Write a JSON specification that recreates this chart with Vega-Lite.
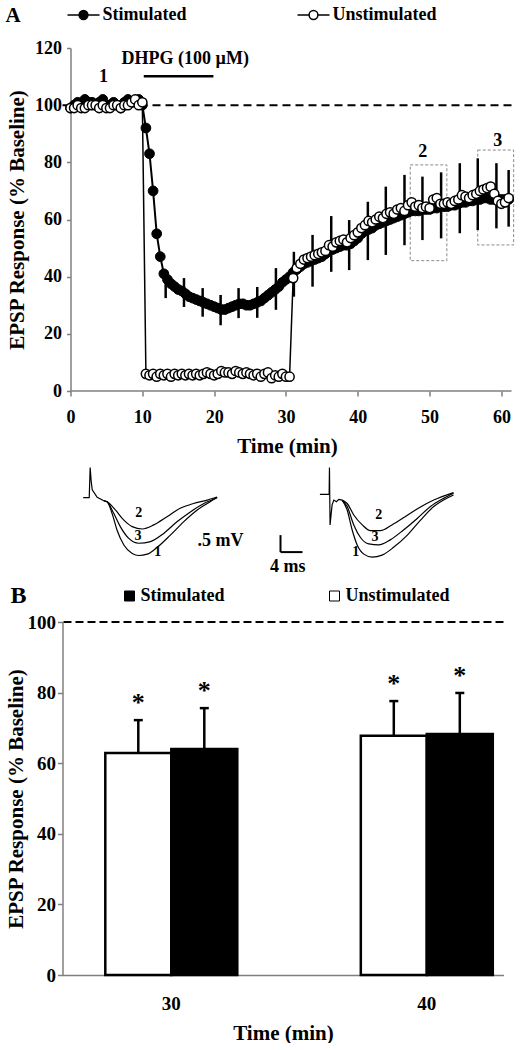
{
  "$schema": "https://vega.github.io/schema/vega-lite/v6.json",
  "background": "white",
  "padding": {"left": 4.5, "top": 4, "right": 0, "bottom": 0},
  "config": {
    "view": {"stroke": null},
    "font": "Liberation Serif",
    "axis": {"grid": false, "domainColor": "#7f7f7f", "domainWidth": 1.5, "tickColor": "#7f7f7f", "tickWidth": 1.5, "labelFont": "Liberation Serif", "labelFontWeight": "bold", "labelColor": "black", "titleFont": "Liberation Serif", "titleFontWeight": "bold", "titleColor": "black", "labelFlush": false, "labelOverlap": false},
    "text": {"font": "Liberation Serif", "fontWeight": "bold", "color": "black"}
  },
  "datasets": {
    "stim": [
      {"group":"Stimulated","t":0,"v":99},{"group":"Stimulated","t":0.5,"v":100},{"group":"Stimulated","t":1,"v":101},{"group":"Stimulated","t":1.5,"v":100},{"group":"Stimulated","t":2,"v":102},{"group":"Stimulated","t":2.5,"v":101},{"group":"Stimulated","t":3,"v":101},{"group":"Stimulated","t":3.5,"v":100},{"group":"Stimulated","t":4,"v":101},{"group":"Stimulated","t":4.5,"v":102},{"group":"Stimulated","t":5,"v":100},{"group":"Stimulated","t":5.5,"v":100},{"group":"Stimulated","t":6,"v":101},{"group":"Stimulated","t":6.5,"v":100},{"group":"Stimulated","t":7,"v":99},{"group":"Stimulated","t":7.5,"v":101},{"group":"Stimulated","t":8,"v":102},{"group":"Stimulated","t":8.5,"v":101},{"group":"Stimulated","t":9,"v":101},{"group":"Stimulated","t":9.5,"v":102},{"group":"Stimulated","t":10,"v":100},
      {"group":"Stimulated","t":10.5,"v":92},{"group":"Stimulated","t":11,"v":83},{"group":"Stimulated","t":11.5,"v":70},{"group":"Stimulated","t":12,"v":55},{"group":"Stimulated","t":12.5,"v":47},{"group":"Stimulated","t":13,"v":41},{"group":"Stimulated","t":13.5,"v":39},{"group":"Stimulated","t":14,"v":37.5},{"group":"Stimulated","t":14.5,"v":36.5},{"group":"Stimulated","t":15,"v":35.5},{"group":"Stimulated","t":15.5,"v":35},{"group":"Stimulated","t":16,"v":34},{"group":"Stimulated","t":16.5,"v":33},{"group":"Stimulated","t":17,"v":32.5},{"group":"Stimulated","t":17.5,"v":32},{"group":"Stimulated","t":18,"v":31.5},{"group":"Stimulated","t":18.5,"v":31},{"group":"Stimulated","t":19,"v":30.5},{"group":"Stimulated","t":19.5,"v":30},{"group":"Stimulated","t":20,"v":29.5},
      {"group":"Stimulated","t":20.5,"v":29},{"group":"Stimulated","t":21,"v":28.5},{"group":"Stimulated","t":21.5,"v":28.5},{"group":"Stimulated","t":22,"v":29},{"group":"Stimulated","t":22.5,"v":29.5},{"group":"Stimulated","t":23,"v":30},{"group":"Stimulated","t":23.5,"v":30.5},{"group":"Stimulated","t":24,"v":30.5},{"group":"Stimulated","t":24.5,"v":30},{"group":"Stimulated","t":25,"v":30},{"group":"Stimulated","t":25.5,"v":30.5},{"group":"Stimulated","t":26,"v":31},{"group":"Stimulated","t":26.5,"v":31.5},{"group":"Stimulated","t":27,"v":32.5},{"group":"Stimulated","t":27.5,"v":33.5},{"group":"Stimulated","t":28,"v":34.5},{"group":"Stimulated","t":28.5,"v":35.5},{"group":"Stimulated","t":29,"v":36.5},{"group":"Stimulated","t":29.5,"v":38},{"group":"Stimulated","t":30,"v":39},
      {"group":"Stimulated","t":30.5,"v":40},{"group":"Stimulated","t":31,"v":41.5},{"group":"Stimulated","t":31.5,"v":42.5},{"group":"Stimulated","t":32,"v":43.5},{"group":"Stimulated","t":32.5,"v":44.5},{"group":"Stimulated","t":33,"v":45},{"group":"Stimulated","t":33.5,"v":45.5},{"group":"Stimulated","t":34,"v":46},{"group":"Stimulated","t":34.5,"v":46.5},{"group":"Stimulated","t":35,"v":47},{"group":"Stimulated","t":35.5,"v":48},{"group":"Stimulated","t":36,"v":49},{"group":"Stimulated","t":36.5,"v":49.5},{"group":"Stimulated","t":37,"v":50},{"group":"Stimulated","t":37.5,"v":50.5},{"group":"Stimulated","t":38,"v":51},{"group":"Stimulated","t":38.5,"v":51},{"group":"Stimulated","t":39,"v":51.5},{"group":"Stimulated","t":39.5,"v":52.5},{"group":"Stimulated","t":40,"v":53.5},
      {"group":"Stimulated","t":40.5,"v":55},{"group":"Stimulated","t":41,"v":56},{"group":"Stimulated","t":41.5,"v":56.5},{"group":"Stimulated","t":42,"v":57},{"group":"Stimulated","t":42.5,"v":58},{"group":"Stimulated","t":43,"v":58.5},{"group":"Stimulated","t":43.5,"v":59},{"group":"Stimulated","t":44,"v":59.5},{"group":"Stimulated","t":44.5,"v":60},{"group":"Stimulated","t":45,"v":60.5},{"group":"Stimulated","t":45.5,"v":61},{"group":"Stimulated","t":46,"v":61.5},{"group":"Stimulated","t":46.5,"v":62},{"group":"Stimulated","t":47,"v":62.5},{"group":"Stimulated","t":47.5,"v":63},{"group":"Stimulated","t":48,"v":63},{"group":"Stimulated","t":48.5,"v":63},{"group":"Stimulated","t":49,"v":63.5},{"group":"Stimulated","t":49.5,"v":63.5},{"group":"Stimulated","t":50,"v":63.5},
      {"group":"Stimulated","t":50.5,"v":64},{"group":"Stimulated","t":51,"v":64},{"group":"Stimulated","t":51.5,"v":64.5},{"group":"Stimulated","t":52,"v":64.5},{"group":"Stimulated","t":52.5,"v":64.5},{"group":"Stimulated","t":53,"v":65},{"group":"Stimulated","t":53.5,"v":65},{"group":"Stimulated","t":54,"v":65.5},{"group":"Stimulated","t":54.5,"v":66},{"group":"Stimulated","t":55,"v":66},{"group":"Stimulated","t":55.5,"v":66.5},{"group":"Stimulated","t":56,"v":66.5},{"group":"Stimulated","t":56.5,"v":67},{"group":"Stimulated","t":57,"v":67},{"group":"Stimulated","t":57.5,"v":67.5},{"group":"Stimulated","t":58,"v":67.5},{"group":"Stimulated","t":58.5,"v":67},{"group":"Stimulated","t":59,"v":67},{"group":"Stimulated","t":59.5,"v":67},{"group":"Stimulated","t":60,"v":67},{"group":"Stimulated","t":60.5,"v":67},{"group":"Stimulated","t":61,"v":67}
    ],
    "unstim": [
      {"group":"Unstimulated","t":0,"v":99},{"group":"Unstimulated","t":0.5,"v":99},{"group":"Unstimulated","t":1,"v":100},{"group":"Unstimulated","t":1.5,"v":99},{"group":"Unstimulated","t":2,"v":99},{"group":"Unstimulated","t":2.5,"v":100},{"group":"Unstimulated","t":3,"v":100},{"group":"Unstimulated","t":3.5,"v":100},{"group":"Unstimulated","t":4,"v":99},{"group":"Unstimulated","t":4.5,"v":100},{"group":"Unstimulated","t":5,"v":99},{"group":"Unstimulated","t":5.5,"v":99},{"group":"Unstimulated","t":6,"v":100},{"group":"Unstimulated","t":6.5,"v":100},{"group":"Unstimulated","t":7,"v":99},{"group":"Unstimulated","t":7.5,"v":100},{"group":"Unstimulated","t":8,"v":100},{"group":"Unstimulated","t":8.5,"v":101},{"group":"Unstimulated","t":9,"v":102},{"group":"Unstimulated","t":9.5,"v":100},{"group":"Unstimulated","t":10,"v":101},
      {"group":"Unstimulated","t":10.5,"v":6},{"group":"Unstimulated","t":11,"v":5.5},{"group":"Unstimulated","t":11.5,"v":6},{"group":"Unstimulated","t":12,"v":5},{"group":"Unstimulated","t":12.5,"v":6},{"group":"Unstimulated","t":13,"v":5.5},{"group":"Unstimulated","t":13.5,"v":6},{"group":"Unstimulated","t":14,"v":5},{"group":"Unstimulated","t":14.5,"v":6},{"group":"Unstimulated","t":15,"v":5.5},{"group":"Unstimulated","t":15.5,"v":6},{"group":"Unstimulated","t":16,"v":5.5},{"group":"Unstimulated","t":16.5,"v":6},{"group":"Unstimulated","t":17,"v":5.5},{"group":"Unstimulated","t":17.5,"v":6},{"group":"Unstimulated","t":18,"v":5.5},{"group":"Unstimulated","t":18.5,"v":6},{"group":"Unstimulated","t":19,"v":6.5},{"group":"Unstimulated","t":19.5,"v":6},{"group":"Unstimulated","t":20,"v":5.5},
      {"group":"Unstimulated","t":20.5,"v":6},{"group":"Unstimulated","t":21,"v":7},{"group":"Unstimulated","t":21.5,"v":6.5},{"group":"Unstimulated","t":22,"v":6.5},{"group":"Unstimulated","t":22.5,"v":6},{"group":"Unstimulated","t":23,"v":7},{"group":"Unstimulated","t":23.5,"v":6.5},{"group":"Unstimulated","t":24,"v":6},{"group":"Unstimulated","t":24.5,"v":6.5},{"group":"Unstimulated","t":25,"v":6},{"group":"Unstimulated","t":25.5,"v":5.5},{"group":"Unstimulated","t":26,"v":6},{"group":"Unstimulated","t":26.5,"v":5},{"group":"Unstimulated","t":27,"v":6},{"group":"Unstimulated","t":27.5,"v":6.5},{"group":"Unstimulated","t":28,"v":4.5},{"group":"Unstimulated","t":28.5,"v":5.5},{"group":"Unstimulated","t":29,"v":5},{"group":"Unstimulated","t":29.5,"v":6},{"group":"Unstimulated","t":30,"v":5},{"group":"Unstimulated","t":30.5,"v":5},
      {"group":"Unstimulated","t":31,"v":39.5},{"group":"Unstimulated","t":31.5,"v":43},{"group":"Unstimulated","t":32,"v":44.5},{"group":"Unstimulated","t":32.5,"v":46},{"group":"Unstimulated","t":33,"v":46.5},{"group":"Unstimulated","t":33.5,"v":47},{"group":"Unstimulated","t":34,"v":47.5},{"group":"Unstimulated","t":34.5,"v":48},{"group":"Unstimulated","t":35,"v":48.5},{"group":"Unstimulated","t":35.5,"v":49},{"group":"Unstimulated","t":36,"v":51},{"group":"Unstimulated","t":36.5,"v":50.5},{"group":"Unstimulated","t":37,"v":52},{"group":"Unstimulated","t":37.5,"v":52.5},{"group":"Unstimulated","t":38,"v":53},{"group":"Unstimulated","t":38.5,"v":52},{"group":"Unstimulated","t":39,"v":53.5},{"group":"Unstimulated","t":39.5,"v":54.5},{"group":"Unstimulated","t":40,"v":55.5},
      {"group":"Unstimulated","t":40.5,"v":57},{"group":"Unstimulated","t":41,"v":58},{"group":"Unstimulated","t":41.5,"v":59.5},{"group":"Unstimulated","t":42,"v":59},{"group":"Unstimulated","t":42.5,"v":60},{"group":"Unstimulated","t":43,"v":61},{"group":"Unstimulated","t":43.5,"v":60.5},{"group":"Unstimulated","t":44,"v":62},{"group":"Unstimulated","t":44.5,"v":62.5},{"group":"Unstimulated","t":45,"v":62},{"group":"Unstimulated","t":45.5,"v":63.5},{"group":"Unstimulated","t":46,"v":64},{"group":"Unstimulated","t":46.5,"v":63},{"group":"Unstimulated","t":47,"v":65},{"group":"Unstimulated","t":47.5,"v":66},{"group":"Unstimulated","t":48,"v":64.5},{"group":"Unstimulated","t":48.5,"v":65},{"group":"Unstimulated","t":49,"v":64},{"group":"Unstimulated","t":49.5,"v":64.5},{"group":"Unstimulated","t":50,"v":64},
      {"group":"Unstimulated","t":50.5,"v":67},{"group":"Unstimulated","t":51,"v":67.5},{"group":"Unstimulated","t":51.5,"v":65.5},{"group":"Unstimulated","t":52,"v":65.5},{"group":"Unstimulated","t":52.5,"v":66},{"group":"Unstimulated","t":53,"v":65.5},{"group":"Unstimulated","t":53.5,"v":66.5},{"group":"Unstimulated","t":54,"v":67},{"group":"Unstimulated","t":54.5,"v":68.5},{"group":"Unstimulated","t":55,"v":68},{"group":"Unstimulated","t":55.5,"v":67.5},{"group":"Unstimulated","t":56,"v":68.5},{"group":"Unstimulated","t":56.5,"v":69},{"group":"Unstimulated","t":57,"v":70},{"group":"Unstimulated","t":57.5,"v":70.5},{"group":"Unstimulated","t":58,"v":71},{"group":"Unstimulated","t":58.5,"v":71.5},{"group":"Unstimulated","t":59,"v":69},{"group":"Unstimulated","t":59.5,"v":66.5},{"group":"Unstimulated","t":60,"v":65.5},{"group":"Unstimulated","t":60.5,"v":66},{"group":"Unstimulated","t":61,"v":67.5}
    ],
    "errA": [
      {"t":13.25,"lo":32.5,"hi":42.3},{"t":15.8,"lo":29.4,"hi":39.5},{"t":18.4,"lo":26,"hi":36},{"t":20.9,"lo":23,"hi":33.6},{"t":23.4,"lo":25.5,"hi":36},{"t":26,"lo":25.6,"hi":36.4},{"t":28.6,"lo":28.4,"hi":43},{"t":31.1,"lo":33,"hi":48.7},{"t":33.7,"lo":36.5,"hi":54.6},{"t":36.3,"lo":41.7,"hi":61.2},{"t":38.8,"lo":42.3,"hi":59.8},{"t":41.4,"lo":45.8,"hi":66.2},{"t":43.9,"lo":47.6,"hi":71.5},{"t":46.5,"lo":51,"hi":75.6},{"t":49,"lo":52.8,"hi":75},{"t":51.6,"lo":53.4,"hi":76.5},{"t":54.2,"lo":55.2,"hi":79.7},{"t":56.7,"lo":56.3,"hi":81.4},{"t":59.3,"lo":56.9,"hi":79.7},{"t":61,"lo":57.5,"hi":77.3}
    ],
    "refLine": [{"level":100}],
    "baseA": [{"from":0,"to":61.4,"level":0}],
    "panelLabel": [{"label":"A","t":-9.05,"v":129.1}],
    "windows": [{"label":"2","t1":47.3,"t2":52.4,"lo":45.6,"hi":79.1},{"label":"3","t1":56.7,"t2":61.7,"lo":51.1,"hi":84.3}],
    "windowLabels": [{"label":"1","t":4.6,"v":110},{"label":"2","t":49.05,"v":83.7},{"label":"3","t":59.5,"v":87.5}],
    "drug": [{"label":"DHPG (100 µM)","start":10.2,"end":19.9,"level":110.1,"mid":15.97,"labelLevel":116.1}],
    "traceL": [
      {"sample":"artifact","t":-1.15,"mV":0},{"sample":"artifact","t":-0.05,"mV":0},{"sample":"artifact","t":0.12,"mV":0.89},{"sample":"artifact","t":0.3,"mV":0.5},{"sample":"artifact","t":0.5,"mV":0.23},{"sample":"artifact","t":1.4,"mV":0.01},{"sample":"artifact","t":2.6,"mV":-0.09},
      {"sample":"1","t":2.6,"mV":-0.09},{"sample":"1","t":3.2,"mV":-0.12},{"sample":"1","t":4.1,"mV":-0.46},{"sample":"1","t":5.0,"mV":-0.95},{"sample":"1","t":6.25,"mV":-1.39},{"sample":"1","t":7.76,"mV":-1.64},{"sample":"1","t":8.97,"mV":-1.7},{"sample":"1","t":10.5,"mV":-1.66},{"sample":"1","t":12.3,"mV":-1.46},{"sample":"1","t":14.7,"mV":-1.1},{"sample":"1","t":17.1,"mV":-0.71},{"sample":"1","t":19.6,"mV":-0.36},{"sample":"1","t":21.4,"mV":-0.17},{"sample":"1","t":23.2,"mV":0.01},
      {"sample":"3","t":2.6,"mV":-0.09},{"sample":"3","t":3.2,"mV":-0.12},{"sample":"3","t":4.4,"mV":-0.46},{"sample":"3","t":5.6,"mV":-0.85},{"sample":"3","t":7.1,"mV":-1.19},{"sample":"3","t":8.97,"mV":-1.34},{"sample":"3","t":11.1,"mV":-1.29},{"sample":"3","t":13.5,"mV":-1.05},{"sample":"3","t":15.9,"mV":-0.71},{"sample":"3","t":18.4,"mV":-0.41},{"sample":"3","t":20.8,"mV":-0.17},{"sample":"3","t":23.2,"mV":0.0},
      {"sample":"2","t":2.6,"mV":-0.09},{"sample":"2","t":3.2,"mV":-0.12},{"sample":"2","t":4.7,"mV":-0.36},{"sample":"2","t":6.25,"mV":-0.66},{"sample":"2","t":7.76,"mV":-0.85},{"sample":"2","t":9.6,"mV":-0.92},{"sample":"2","t":11.7,"mV":-0.8},{"sample":"2","t":14.1,"mV":-0.56},{"sample":"2","t":16.5,"mV":-0.31},{"sample":"2","t":18.9,"mV":-0.17},{"sample":"2","t":21.4,"mV":-0.07},{"sample":"2","t":23.2,"mV":0.02}
    ],
    "traceR": [
      {"sample":"artifact","t":-1.8,"mV":0.1},{"sample":"artifact","t":-0.12,"mV":0.1},{"sample":"artifact","t":-0.06,"mV":0.89},{"sample":"artifact","t":0.05,"mV":-0.8},{"sample":"artifact","t":0.42,"mV":-0.21},{"sample":"artifact","t":0.73,"mV":-0.07},{"sample":"artifact","t":1.2,"mV":-0.12},{"sample":"artifact","t":1.64,"mV":-0.05},{"sample":"artifact","t":2.25,"mV":-0.07},
      {"sample":"1","t":2.25,"mV":-0.07},{"sample":"1","t":3.16,"mV":-0.36},{"sample":"1","t":4.07,"mV":-0.95},{"sample":"1","t":4.98,"mV":-1.39},{"sample":"1","t":6.2,"mV":-1.66},{"sample":"1","t":7.7,"mV":-1.75},{"sample":"1","t":9.5,"mV":-1.69},{"sample":"1","t":11.6,"mV":-1.46},{"sample":"1","t":14.1,"mV":-1.1},{"sample":"1","t":16.5,"mV":-0.66},{"sample":"1","t":18.9,"mV":-0.26},{"sample":"1","t":20.7,"mV":-0.07},{"sample":"1","t":22.5,"mV":0.08},
      {"sample":"3","t":2.25,"mV":-0.07},{"sample":"3","t":3.16,"mV":-0.26},{"sample":"3","t":4.36,"mV":-0.8},{"sample":"3","t":5.58,"mV":-1.17},{"sample":"3","t":7.1,"mV":-1.36},{"sample":"3","t":8.9,"mV":-1.39},{"sample":"3","t":11.0,"mV":-1.24},{"sample":"3","t":13.4,"mV":-0.95},{"sample":"3","t":15.9,"mV":-0.61},{"sample":"3","t":18.3,"mV":-0.26},{"sample":"3","t":20.7,"mV":-0.02},{"sample":"3","t":22.5,"mV":0.13},
      {"sample":"2","t":2.25,"mV":-0.07},{"sample":"2","t":3.16,"mV":-0.17},{"sample":"2","t":4.36,"mV":-0.51},{"sample":"2","t":5.9,"mV":-0.8},{"sample":"2","t":7.4,"mV":-0.97},{"sample":"2","t":9.2,"mV":-0.97},{"sample":"2","t":11.3,"mV":-0.8},{"sample":"2","t":13.7,"mV":-0.56},{"sample":"2","t":16.1,"mV":-0.31},{"sample":"2","t":18.9,"mV":-0.07},{"sample":"2","t":22.5,"mV":0.15}
    ],
    "labelsL": [{"sample":"1","t":12.4,"mV":-1.59},{"sample":"2","t":8.97,"mV":-0.46},{"sample":"3","t":8.8,"mV":-1.13}],
    "labelsR": [{"sample":"1","t":4.7,"mV":-1.59},{"sample":"2","t":8.9,"mV":-0.51},{"sample":"3","t":8.2,"mV":-1.17}],
    "scaleBar": [{"part":"vertical","t":34.73,"t2":34.73,"mV":-1.1,"mV2":-1.6},{"part":"horizontal","t":34.73,"t2":38.73,"mV":-1.6,"mV2":-1.6}],
    "scaleText": [{"text":".5 mV","t":23.8,"mV":-1.27},{"text":"4 ms","t":36.05,"mV":-2.03}],
    "barsB": [
      {"time":"30","group":"Unstimulated","mean":62.9,"upper":72.2,"sig":"*"},
      {"time":"30","group":"Stimulated","mean":64.0,"upper":75.6,"sig":"*"},
      {"time":"40","group":"Unstimulated","mean":67.8,"upper":77.6,"sig":"*"},
      {"time":"40","group":"Stimulated","mean":68.3,"upper":79.9,"sig":"*"}
    ]
  },
  "columns": 1,
  "spacing": 6,
  "resolve": {"scale": {"fill": "independent"}, "legend": {"fill": "independent"}},
  "concat": [
    {
      "width": 449,
      "height": 343,
      "layer": [
        {
          "data": {"name": "refLine"},
          "mark": {"type": "rule", "strokeDash": [8, 5], "strokeWidth": 2, "color": "black"},
          "encoding": {
            "y": {"field": "level", "type": "quantitative", "title": "EPSP Response (% Baseline)",
                  "scale": {"domain": [0, 120], "nice": false},
                  "axis": {"values": [0, 20, 40, 60, 80, 100, 120], "labelFontSize": 18, "titleFontSize": 21, "tickSize": 4, "labelPadding": 5, "titlePadding": 7, "offset": -8}}
          }
        },
        {
          "data": {"name": "baseA"},
          "mark": {"type": "rule", "strokeWidth": 1.5, "color": "#7f7f7f"},
          "encoding": {
            "x": {"field": "from", "type": "quantitative", "title": "Time (min)",
                  "scale": {"domain": [-1.114, 61.4], "nice": false, "zero": false},
                  "axis": {"values": [0, 10, 20, 30, 40, 50, 60], "domain": false, "labelFontSize": 18, "titleFontSize": 21, "tickSize": 5, "labelPadding": 12, "titlePadding": 9}},
            "x2": {"field": "to"},
            "y": {"field": "level", "type": "quantitative", "title": "EPSP Response (% Baseline)"}
          }
        },
        {
          "data": {"name": "panelLabel"},
          "mark": {"type": "text", "fontSize": 21, "align": "left", "baseline": "alphabetic"},
          "encoding": {
            "x": {"field": "t", "type": "quantitative", "title": "Time (min)"},
            "y": {"field": "v", "type": "quantitative", "title": "EPSP Response (% Baseline)"},
            "text": {"field": "label"}
          }
        },
        {
          "data": {"name": "windows"},
          "mark": {"type": "rect", "filled": false, "stroke": "#8a8a8a", "strokeWidth": 1, "strokeDash": [3, 2]},
          "encoding": {
            "x": {"field": "t1", "type": "quantitative", "title": "Time (min)"},
            "x2": {"field": "t2"},
            "y": {"field": "lo", "type": "quantitative", "title": "EPSP Response (% Baseline)"},
            "y2": {"field": "hi"}
          }
        },
        {
          "data": {"name": "windowLabels"},
          "mark": {"type": "text", "fontSize": 18, "baseline": "middle"},
          "encoding": {
            "x": {"field": "t", "type": "quantitative", "title": "Time (min)"},
            "y": {"field": "v", "type": "quantitative", "title": "EPSP Response (% Baseline)"},
            "text": {"field": "label"}
          }
        },
        {
          "data": {"name": "drug"},
          "mark": {"type": "rule", "strokeWidth": 2.5, "color": "black"},
          "encoding": {
            "x": {"field": "start", "type": "quantitative", "title": "Time (min)"},
            "x2": {"field": "end"},
            "y": {"field": "level", "type": "quantitative", "title": "EPSP Response (% Baseline)"}
          }
        },
        {
          "data": {"name": "drug"},
          "mark": {"type": "text", "fontSize": 18, "baseline": "middle"},
          "encoding": {
            "x": {"field": "mid", "type": "quantitative", "title": "Time (min)"},
            "y": {"field": "labelLevel", "type": "quantitative", "title": "EPSP Response (% Baseline)"},
            "text": {"field": "label"}
          }
        },
        {
          "data": {"name": "errA"},
          "mark": {"type": "rule", "strokeWidth": 2.5, "color": "black"},
          "encoding": {
            "x": {"field": "t", "type": "quantitative", "title": "Time (min)"},
            "y": {"field": "lo", "type": "quantitative", "title": "EPSP Response (% Baseline)"},
            "y2": {"field": "hi"}
          }
        },
        {
          "data": {"name": "stim"},
          "mark": {"type": "line", "color": "black", "strokeWidth": 2},
          "encoding": {
            "x": {"field": "t", "type": "quantitative", "title": "Time (min)"},
            "y": {"field": "v", "type": "quantitative", "title": "EPSP Response (% Baseline)"}
          }
        },
        {
          "data": {"name": "stim"},
          "mark": {"type": "point", "filled": true, "size": 95, "stroke": "black", "strokeWidth": 1, "opacity": 1},
          "encoding": {
            "x": {"field": "t", "type": "quantitative", "title": "Time (min)"},
            "y": {"field": "v", "type": "quantitative", "title": "EPSP Response (% Baseline)"},
            "fill": {"field": "group", "type": "nominal",
                     "scale": {"domain": ["Stimulated", "Unstimulated"], "range": ["black", "white"]},
                     "legend": {"title": null,
                                "orient": "none", "legendX": 12, "legendY": -42, "direction": "horizontal",
                                "symbolType": "M-2,0H-0.55M0.55,0H2M0.55,0A0.55,0.55,0,1,1,-0.55,0A0.55,0.55,0,1,1,0.55,0Z",
                                "symbolSize": 256, "symbolStrokeColor": "black", "symbolStrokeWidth": 1.5, "symbolOpacity": 1,
                                "labelFont": "Liberation Serif", "labelFontWeight": "bold", "labelFontSize": 18, "labelColor": "black",
                                "labelOffset": 10, "columnPadding": 107, "labelLimit": 0}}
          }
        },
        {
          "data": {"name": "unstim"},
          "mark": {"type": "line", "color": "black", "strokeWidth": 1.5},
          "encoding": {
            "x": {"field": "t", "type": "quantitative", "title": "Time (min)"},
            "y": {"field": "v", "type": "quantitative", "title": "EPSP Response (% Baseline)"}
          }
        },
        {
          "data": {"name": "unstim"},
          "mark": {"type": "point", "filled": true, "size": 85, "stroke": "black", "strokeWidth": 1.5, "opacity": 1},
          "encoding": {
            "x": {"field": "t", "type": "quantitative", "title": "Time (min)"},
            "y": {"field": "v", "type": "quantitative", "title": "EPSP Response (% Baseline)"},
            "fill": {"field": "group", "type": "nominal",
                     "scale": {"domain": ["Stimulated", "Unstimulated"], "range": ["black", "white"]},
                     "legend": {"title": null,
                                "orient": "none", "legendX": 12, "legendY": -42, "direction": "horizontal",
                                "symbolType": "M-2,0H-0.55M0.55,0H2M0.55,0A0.55,0.55,0,1,1,-0.55,0A0.55,0.55,0,1,1,0.55,0Z",
                                "symbolSize": 256, "symbolStrokeColor": "black", "symbolStrokeWidth": 1.5, "symbolOpacity": 1,
                                "labelFont": "Liberation Serif", "labelFontWeight": "bold", "labelFontSize": 18, "labelColor": "black",
                                "labelOffset": 10, "columnPadding": 107, "labelLimit": 0}}
          }
        }
      ]
    },
    {
      "width": 449,
      "height": 119,
      "resolve": {"scale": {"x": "independent"}},
      "layer": [
        {
          "layer": [
            {
              "data": {"name": "traceL"},
              "transform": [{"filter": "datum.sample === 'artifact'"}],
              "mark": {"type": "line", "color": "black", "strokeWidth": 1.2},
              "encoding": {
                "x": {"field": "t", "type": "quantitative", "scale": {"domain": [-4.909, 76.73], "nice": false, "zero": false}, "axis": null},
                "y": {"field": "mV", "type": "quantitative", "scale": {"domain": [-2.45, 1.05], "nice": false, "zero": false}, "axis": null}
              }
            },
            {
              "data": {"name": "traceL"},
              "transform": [{"filter": "datum.sample !== 'artifact'"}],
              "mark": {"type": "line", "color": "black", "strokeWidth": 1.2, "interpolate": "monotone"},
              "encoding": {
                "x": {"field": "t", "type": "quantitative", "axis": null},
                "y": {"field": "mV", "type": "quantitative", "axis": null},
                "detail": {"field": "sample"}
              }
            },
            {
              "data": {"name": "labelsL"},
              "mark": {"type": "text", "fontSize": 14, "baseline": "middle"},
              "encoding": {
                "x": {"field": "t", "type": "quantitative", "axis": null},
                "y": {"field": "mV", "type": "quantitative", "axis": null},
                "text": {"field": "sample"}
              }
            },
            {
              "data": {"name": "scaleBar"},
              "mark": {"type": "rule", "color": "black", "strokeWidth": 2},
              "encoding": {
                "x": {"field": "t", "type": "quantitative", "axis": null},
                "x2": {"field": "t2"},
                "y": {"field": "mV", "type": "quantitative", "axis": null},
                "y2": {"field": "mV2"}
              }
            },
            {
              "data": {"name": "scaleText"},
              "mark": {"type": "text", "fontSize": 18, "baseline": "middle"},
              "encoding": {
                "x": {"field": "t", "type": "quantitative", "axis": null},
                "y": {"field": "mV", "type": "quantitative", "axis": null},
                "text": {"field": "text"}
              }
            }
          ]
        },
        {
          "layer": [
            {
              "data": {"name": "traceR"},
              "transform": [{"filter": "datum.sample === 'artifact'"}],
              "mark": {"type": "line", "color": "black", "strokeWidth": 1.2},
              "encoding": {
                "x": {"field": "t", "type": "quantitative", "scale": {"domain": [-48.6, 33.04], "nice": false, "zero": false}, "axis": null},
                "y": {"field": "mV", "type": "quantitative", "axis": null}
              }
            },
            {
              "data": {"name": "traceR"},
              "transform": [{"filter": "datum.sample !== 'artifact'"}],
              "mark": {"type": "line", "color": "black", "strokeWidth": 1.2, "interpolate": "monotone"},
              "encoding": {
                "x": {"field": "t", "type": "quantitative", "axis": null},
                "y": {"field": "mV", "type": "quantitative", "axis": null},
                "detail": {"field": "sample"}
              }
            },
            {
              "data": {"name": "labelsR"},
              "mark": {"type": "text", "fontSize": 14, "baseline": "middle"},
              "encoding": {
                "x": {"field": "t", "type": "quantitative", "axis": null},
                "y": {"field": "mV", "type": "quantitative", "axis": null},
                "text": {"field": "sample"}
              }
            }
          ]
        }
      ]
    },
    {
      "width": 441,
      "height": 353,
      "layer": [
        {
          "data": {"name": "refLine"},
          "mark": {"type": "rule", "strokeDash": [8, 4], "strokeWidth": 2, "color": "black"},
          "encoding": {
            "y": {"field": "level", "type": "quantitative", "title": "EPSP Response (% Baseline)",
                  "scale": {"domain": [0, 100], "nice": false},
                  "axis": {"values": [0, 20, 40, 60, 80, 100], "labelFontSize": 19, "titleFontSize": 21, "tickSize": 5, "labelPadding": 2, "titlePadding": 1}}
          }
        },
        {
          "data": {"name": "barsB"},
          "mark": {"type": "bar", "stroke": "black", "strokeWidth": 2.5, "opacity": 1},
          "encoding": {
            "x": {"field": "time", "type": "nominal", "title": "Time (min)",
                  "scale": {"paddingInner": 0.4834, "paddingOuter": 0.1047, "align": 0.8},
                  "axis": {"labelAngle": 0, "labelFontSize": 19, "titleFontSize": 21, "ticks": false, "tickSize": 0, "labelPadding": 19, "titlePadding": 9}},
            "xOffset": {"field": "group", "type": "nominal", "scale": {"domain": ["Unstimulated", "Stimulated"], "paddingInner": 0, "paddingOuter": 0}},
            "y": {"field": "mean", "type": "quantitative", "title": "EPSP Response (% Baseline)"},
            "fill": {"field": "group", "type": "nominal",
                     "scale": {"domain": ["Stimulated", "Unstimulated"], "range": ["black", "white"]},
                     "legend": {"title": "B", "titleOrient": "left", "titleFont": "Liberation Serif", "titleFontWeight": "bold", "titleFontSize": 24, "titleColor": "black", "titlePadding": 93,
                                "orient": "none", "legendX": -52, "legendY": -35, "direction": "horizontal",
                                "symbolType": "square", "symbolSize": 100, "symbolStrokeColor": "black", "symbolStrokeWidth": 1, "symbolOpacity": 1,
                                "labelFont": "Liberation Serif", "labelFontWeight": "bold", "labelFontSize": 18, "labelColor": "black",
                                "labelOffset": 2, "columnPadding": 100, "labelLimit": 0}}
          }
        },
        {
          "data": {"name": "barsB"},
          "mark": {"type": "rule", "color": "black", "strokeWidth": 2.5},
          "encoding": {
            "x": {"field": "time", "type": "nominal", "title": "Time (min)"},
            "xOffset": {"field": "group", "type": "nominal"},
            "y": {"field": "mean", "type": "quantitative", "title": "EPSP Response (% Baseline)"},
            "y2": {"field": "upper"}
          }
        },
        {
          "data": {"name": "barsB"},
          "mark": {"type": "tick", "color": "black", "size": 9, "thickness": 2.5, "opacity": 1},
          "encoding": {
            "x": {"field": "time", "type": "nominal", "title": "Time (min)"},
            "xOffset": {"field": "group", "type": "nominal"},
            "y": {"field": "upper", "type": "quantitative", "title": "EPSP Response (% Baseline)"}
          }
        },
        {
          "data": {"name": "barsB"},
          "mark": {"type": "text", "fontSize": 26, "baseline": "alphabetic", "dy": -9},
          "encoding": {
            "x": {"field": "time", "type": "nominal", "title": "Time (min)"},
            "xOffset": {"field": "group", "type": "nominal"},
            "y": {"field": "upper", "type": "quantitative", "title": "EPSP Response (% Baseline)"},
            "text": {"field": "sig"}
          }
        }
      ]
    }
  ]
}
